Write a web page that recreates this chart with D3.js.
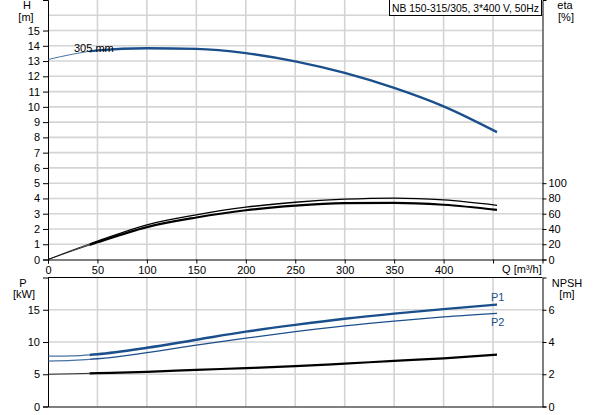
<!DOCTYPE html>
<html>
<head>
<meta charset="utf-8">
<script src="https://cdn.jsdelivr.net/npm/d3@7"></script>
<style>
  body { margin: 0; background: #fff; }
  svg { display: block; font-family: "Liberation Sans", Arial, sans-serif; }
  .tick text { font-size: 11px; fill: #000; }
</style>
</head>
<body>
<svg width="593" height="415"></svg>
<script>
// flow points [m3/h]
const flow = [0, 25, 50, 100, 150, 200, 250, 300, 350, 400, 454];
const head = [13.1, 13.45, 13.7, 13.84, 13.8, 13.52, 12.98, 12.22, 11.24, 10.03, 8.34];
const etaPump = [0, 12.5, 24, 45.5, 58.5, 68.5, 75, 79, 80.5, 78, 71];
const etaTotal = [0, 11.5, 22.5, 42.5, 55, 64.5, 70.5, 73.8, 74.3, 71.7, 65];
const powerP1 = [7.8, 7.85, 8.1, 9.1, 10.35, 11.6, 12.65, 13.6, 14.4, 15.1, 15.8];
const powerP2 = [7.05, 7.15, 7.4, 8.35, 9.5, 10.6, 11.6, 12.5, 13.25, 13.9, 14.45];
const npsh = [2.0, 2.03, 2.07, 2.15, 2.27, 2.38, 2.5, 2.66, 2.83, 2.99, 3.22];

const qTicks = [0, 50, 100, 150, 200, 250, 300, 350, 400, 450];
const hTicks = [0, 1, 2, 3, 4, 5, 6, 7, 8, 9, 10, 11, 12, 13, 14, 15];
const etaTicks = [0, 20, 40, 60, 80, 100];
const pTicks = [0, 5, 10, 15];
const npshTicks = [0, 2, 4, 6];
const qThin = 42; // curves drawn thin below this flow
const title = 'NB 150-315/305, 3*400 V, 50Hz';

const blue = '#1b4f8c';
const gridColor = '#d4d4d4';

const svg = d3.select('svg');

const x = d3.scaleLinear().domain([0, 500]).range([48, 542.5]);
const yH = d3.scaleLinear().domain([0, 17]).range([259.5, 0]);
const yEta = d3.scaleLinear().domain([0, 340]).range([259.5, 0]);
const yP = d3.scaleLinear().domain([0, 20]).range([406.5, 277.5]);
const yN = d3.scaleLinear().domain([0, 8]).range([406.5, 277.5]);

// clip areas for thin start / thick rest
const defs = svg.append('defs');
defs.append('clipPath').attr('id', 'thin')
  .append('rect').attr('x', 0).attr('y', 0).attr('width', x(qThin)).attr('height', 415);
defs.append('clipPath').attr('id', 'thick')
  .append('rect').attr('x', x(qThin)).attr('y', 0).attr('width', 593).attr('height', 415);

// grid
const grid = svg.append('g');
grid.selectAll('.hg').data(d3.range(1, 17)).enter().append('line')
  .attr('x1', x(0)).attr('x2', x(500))
  .attr('y1', d => yH(d)).attr('y2', d => yH(d))
  .attr('stroke', gridColor).attr('stroke-width', 1.6);
grid.selectAll('.pg').data([5, 10, 15]).enter().append('line')
  .attr('x1', x(0)).attr('x2', x(500))
  .attr('y1', d => yP(d)).attr('y2', d => yP(d))
  .attr('stroke', gridColor).attr('stroke-width', 1.6);
qTicks.slice(1).forEach(q => {
  grid.append('line').attr('x1', x(q)).attr('x2', x(q))
    .attr('y1', yH(17)).attr('y2', yH(0))
    .attr('stroke', gridColor).attr('stroke-width', 1.6);
  grid.append('line').attr('x1', x(q)).attr('x2', x(q))
    .attr('y1', yP(20)).attr('y2', yP(0))
    .attr('stroke', gridColor).attr('stroke-width', 1.6);
});

// axes
function styleAxis(g) {
  g.selectAll('.domain').attr('stroke', '#000');
  g.selectAll('.tick line').attr('stroke', '#000');
  g.selectAll('.tick text').attr('font-family', '"Liberation Sans", Arial, sans-serif');
}

svg.append('g').attr('transform', `translate(${x(0)},0)`)
  .call(d3.axisLeft(yH).tickValues(hTicks).tickSize(5).tickPadding(3).tickFormat(d3.format('d')))
  .call(styleAxis);
svg.append('g').attr('transform', `translate(${x(500)},0)`)
  .call(d3.axisRight(yEta).tickValues(etaTicks).tickSize(4).tickPadding(2).tickFormat(d3.format('d')))
  .call(styleAxis);
svg.append('g').attr('transform', `translate(0,${yH(0)})`)
  .call(d3.axisBottom(x).tickValues(qTicks).tickSize(4).tickPadding(3)
    .tickFormat(d => d === 450 ? '' : d))
  .call(styleAxis);
svg.append('text').attr('x', x(450) + 9).attr('y', 273)
  .attr('font-size', 11).text('Q [m³/h]');

svg.append('g').attr('transform', `translate(${x(0)},0)`)
  .call(d3.axisLeft(yP).tickValues(pTicks).tickSize(5).tickPadding(3))
  .call(styleAxis);
svg.append('g').attr('transform', `translate(${x(500)},0)`)
  .call(d3.axisRight(yN).tickValues(npshTicks).tickSize(4).tickPadding(2))
  .call(styleAxis);
svg.append('g').attr('transform', `translate(0,${yP(0)})`)
  .call(d3.axisBottom(x).tickValues(qTicks).tickSize(0).tickFormat(''))
  .call(styleAxis);
svg.append('line').attr('x1', x(0)).attr('x2', x(500))
  .attr('y1', yP(20)).attr('y2', yP(20)).attr('stroke', '#000');

// axis titles
const lab = svg.append('g').attr('font-size', 11).attr('text-anchor', 'middle');
lab.append('text').attr('x', 27).attr('y', 9).text('H');
lab.append('text').attr('x', 26).attr('y', 21).text('[m]');
lab.append('text').attr('x', 565).attr('y', 9).text('eta');
lab.append('text').attr('x', 566).attr('y', 21).text('[%]');
lab.append('text').attr('x', 23).attr('y', 287).text('P');
lab.append('text').attr('x', 24).attr('y', 298).text('[kW]');
lab.append('text').attr('x', 567).attr('y', 287).text('NPSH');
lab.append('text').attr('x', 567).attr('y', 298).text('[m]');

// curves
function drawCurve(yScale, values, color, thinW, thickW) {
  const line = d3.line()
    .x((d, i) => x(flow[i]))
    .y(d => yScale(d))
    .curve(d3.curveMonotoneX);
  svg.append('path').datum(values).attr('d', line)
    .attr('fill', 'none').attr('stroke', color).attr('stroke-width', thinW)
    .attr('clip-path', 'url(#thin)').attr('opacity', 0.8);
  svg.append('path').datum(values).attr('d', line)
    .attr('fill', 'none').attr('stroke', color).attr('stroke-width', thickW)
    .attr('clip-path', 'url(#thick)');
}

drawCurve(yH, head, blue, 1, 2.4);
drawCurve(yEta, etaPump, '#000', 1, 1.3);
drawCurve(yEta, etaTotal, '#000', 1, 2.2);
drawCurve(yP, powerP1, blue, 1.2, 2.4);
drawCurve(yP, powerP2, blue, 1.2, 1.3);
drawCurve(yN, npsh, '#000', 1, 2.2);

svg.append('text').attr('x', 74).attr('y', 52).attr('font-size', 11).text('305 mm');
svg.append('text').attr('x', 491).attr('y', 301).attr('font-size', 11).attr('fill', blue).text('P1');
svg.append('text').attr('x', 491).attr('y', 326).attr('font-size', 11).attr('fill', blue).text('P2');

// title box
svg.append('rect').attr('x', 389.5).attr('y', -0.5).attr('width', 152).attr('height', 16)
  .attr('fill', '#fff').attr('stroke', '#000').attr('stroke-width', 1);
svg.append('text').attr('x', 392).attr('y', 12).attr('font-size', 11)
  .attr('textLength', 147).attr('lengthAdjust', 'spacingAndGlyphs').text(title);
</script>
</body>
</html>
